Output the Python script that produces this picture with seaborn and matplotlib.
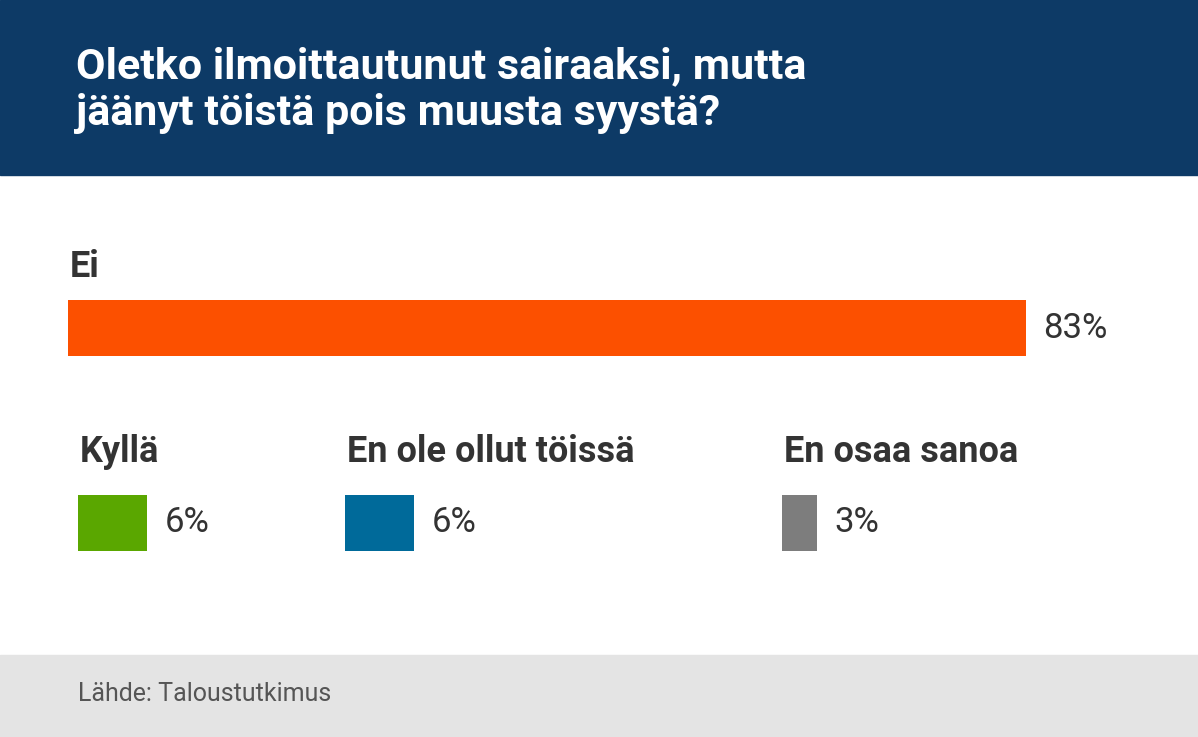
import matplotlib
matplotlib.use("Agg")
import matplotlib.pyplot as plt
import seaborn as sns
import pandas as pd
from matplotlib.patches import Rectangle

categories = ["Ei", "Kyllä", "En ole ollut töissä", "En osaa sanoa"]
values = [83, 6, 6, 3]
colors = ["#fc5000", "#5aa700", "#006a9a", "#7d7d7d"]
title = "Oletko ilmoittautunut sairaaksi, mutta\njäänyt töistä pois muusta syystä?"
source = "Lähde: Taloustutkimus"

W, H = 1198, 737
PX_PER_PCT = 958 / 83
fig = plt.figure(figsize=(W / 100, H / 100), dpi=100)
FONT = "Roboto"

bg = fig.add_axes([0, 0, 1, 1]); bg.set_xlim(0, W); bg.set_ylim(H, 0); bg.axis("off")
bg.add_patch(Rectangle((0, 0), W, 175, color="#0d3a66"))
bg.add_patch(Rectangle((0, 655), W, 82, color="#e4e4e4"))
bg.text(76, 90, title, color="white", fontsize=31, fontweight="bold", family=FONT,
        va="center", ha="left", linespacing=1.2)
bg.text(78, 694, source, color="#555555", fontsize=18, family=FONT, va="center")

def bar(i, left, top, label_y):
    ax = fig.add_axes([left / W, (H - top - 56) / H, (W - left) / W, 56 / H])
    df = pd.DataFrame({"c": [categories[i]], "v": [values[i]]})
    sns.barplot(data=df, x="v", y="c", orient="h", color=colors[i], width=1,
                saturation=1, ax=ax)
    ax.set_xlim(0, (W - left) / PX_PER_PCT); ax.set_ylim(0.5, -0.5)
    ax.axis("off")
    ax.text(values[i] + 1.5, 0, f"{values[i]}%", va="center", ha="left",
            fontsize=25, color="#333333", family=FONT)
    bg.text(left + 2, label_y, categories[i], fontsize=26, fontweight="bold",
            color="#333333", family=FONT, va="center")

bar(0, 68, 300, 267)
bar(1, 78, 495, 452)
bar(2, 345, 495, 452)
bar(3, 782, 495, 452)

fig.savefig("out.png", dpi=100)
